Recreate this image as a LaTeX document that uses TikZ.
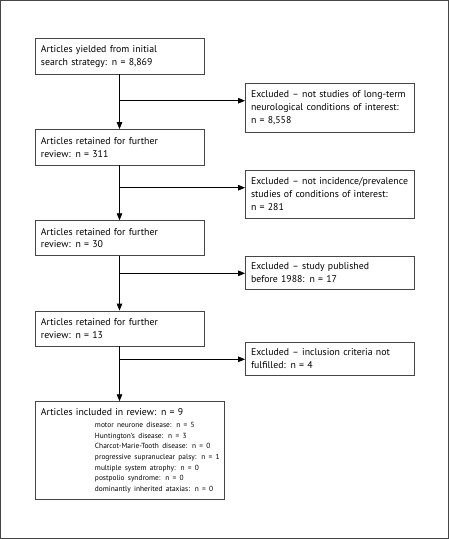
\documentclass[tikz,border=0pt]{standalone}
\usepackage{fontspec}
\setmainfont{PT Sans}
\usetikzlibrary{arrows.meta}
\definecolor{edge}{RGB}{70,70,70}
\newcommand\nobrk{\rightskip=-30pt plus 1fil\relax}
\tikzset{
  box/.style={draw=edge, line width=0.8pt, align=left, inner xsep=6pt, inner ysep=2pt,
    font=\fontsize{9.8}{12.7}\selectfont, anchor=center},
  lbox/.style={box, minimum width=169pt, text width=157pt},
  rbox/.style={box, minimum width=168.5pt, text width=157.5pt, inner xsep=5.5pt},
  arr/.style={draw=black, line width=0.8pt, -{Triangle[length=7pt,width=5.5pt]}}
}
\begin{document}
\begin{tikzpicture}[x=1pt,y=-1pt]
\useasboundingbox (0,0) rectangle (449,539);
\draw[edge, line width=1.1pt] (0.8,0.8) rectangle (448.2,538.2);

\node[lbox, minimum height=35.5pt] (b1) at (119.5,56.25) {\nobrk Articles yielded from initial\\search strategy: n = 8,869};
\node[lbox, minimum height=35.5pt] (b2) at (119.5,147.25) {\nobrk Articles retained for further\\review: n = 311};
\node[lbox, minimum height=34.6pt] (b3) at (119.5,238) {\nobrk Articles retained for further\\review: n = 30};
\node[lbox, minimum height=35pt] (b4) at (119.5,328.5) {\nobrk Articles retained for further\\review: n = 13};
\node[box, minimum width=189pt, text width=177pt, minimum height=98pt] (b5) at (129.5,450.7) {%
{\fontsize{9.8}{12}\selectfont\nobrk Articles included in review: n = 9\par}%
\vspace{1.5pt}%
{\fontsize{7.4}{10.67}\selectfont\leftskip=54pt\nobrk
motor neurone disease: n = 5\par
Huntington's disease: n = 3\par
Charcot-Marie-Tooth disease: n = 0\par
progressive supranuclear palsy: n = 1\par
multiple system atrophy: n = 0\par
postpolio syndrome: n = 0\par
dominantly inherited ataxias: n = 0\par}};

\node[rbox, minimum height=48.5pt] (r1) at (329.75,107.75) {\nobrk Excluded -- not studies of long-term\\neurological conditions of interest:\\n = 8,558};
\node[rbox, minimum height=48pt] (r2) at (329.75,194) {\nobrk Excluded -- not incidence/prevalence\\studies of conditions of interest:\\n = 281};
\node[rbox, minimum height=33.7pt] (r3) at (329.75,272.85) {\nobrk Excluded -- study published\\before 1988: n = 17};
\node[rbox, minimum height=32.7pt] (r4) at (329.75,358.65) {\nobrk Excluded -- inclusion criteria not\\fulfilled: n = 4};

\coordinate (c1) at (119.5,100.7);
\coordinate (c2) at (119.5,187.7);
\coordinate (c3) at (119.5,273.3);
\coordinate (c4) at (119.5,359.3);

\draw[arr] (b1.south) -- (b2.north);
\draw[arr] (b2.south) -- (b3.north);
\draw[arr] (b3.south) -- (b4.north);
\draw[arr] (b4.south) -- (b4.south |- b5.north);
\draw[arr] (c1) -- (c1 -| r1.west);
\draw[arr] (c2) -- (c2 -| r2.west);
\draw[arr] (c3) -- (c3 -| r3.west);
\draw[arr] (c4) -- (c4 -| r4.west);
\end{tikzpicture}
\end{document}
